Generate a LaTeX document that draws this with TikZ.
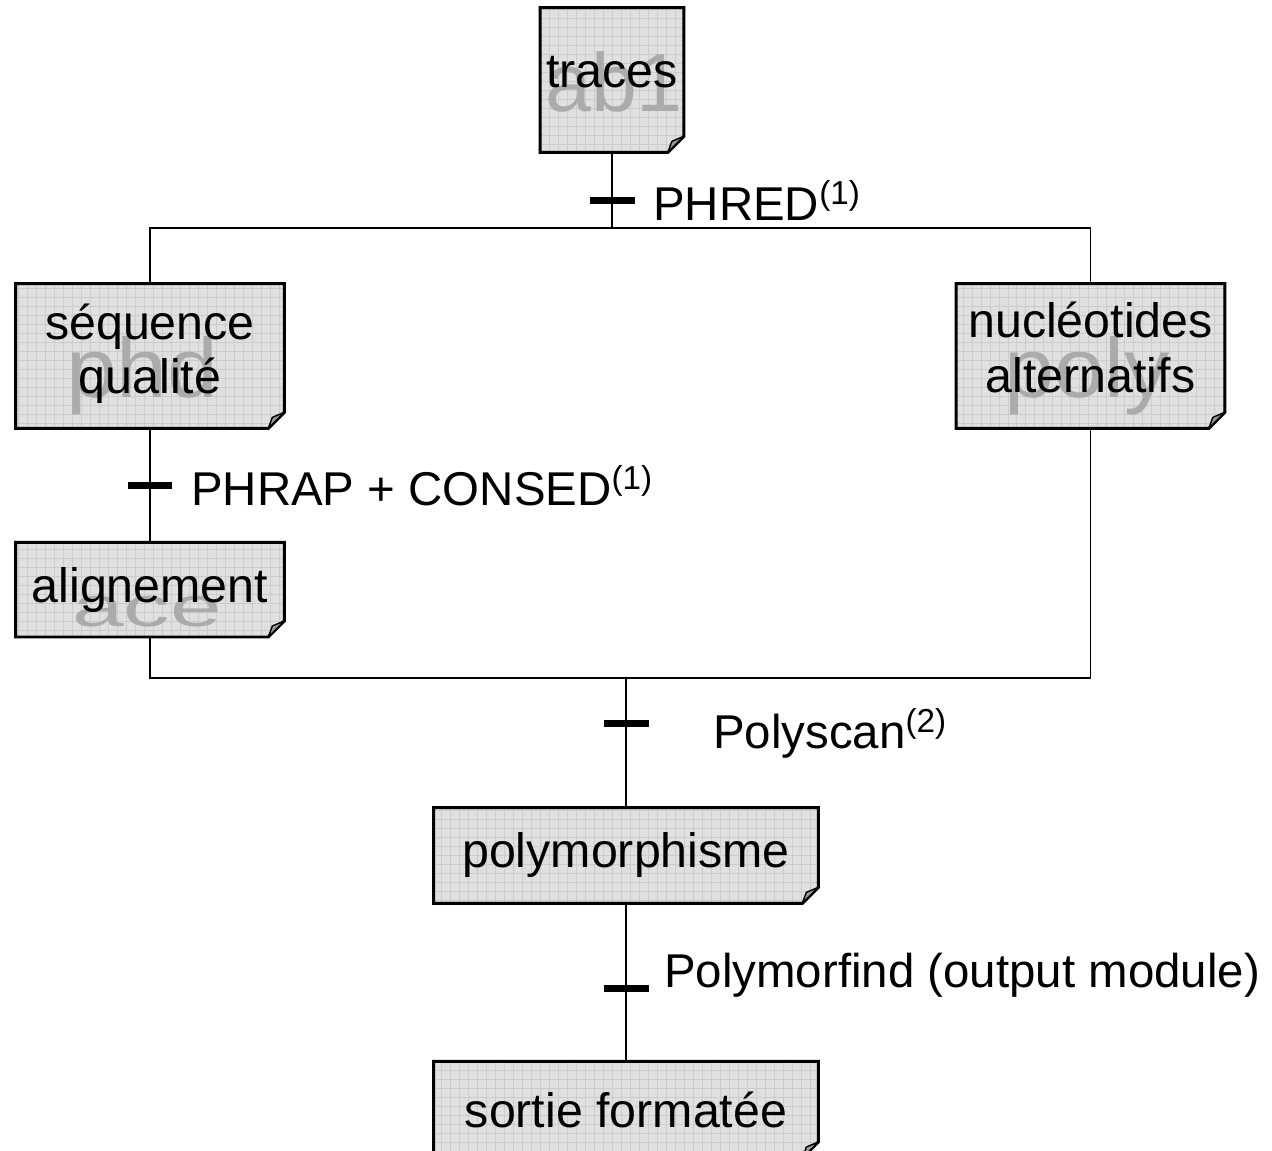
\documentclass[tikz,border=0pt]{standalone}
\usepackage{fontspec}
\setmainfont{Liberation Sans}
\usetikzlibrary{positioning,calc}
\pgfdeclarelayer{bg}
\pgfsetlayers{bg,main}
\tikzset{
	>=stealth
}
\newcommand{\fold}{0.32cm}

\begin{document}
\begin{tikzpicture}[
x = 0.02cm, y = -0.02cm,
node distance = 2mm,
every node/.style = {
	font = \fontsize{27}{31}\selectfont
},
doc/.style = {
	inner sep = 0pt,
	align = center,
	font = \fontsize{27.5}{31}\selectfont,
	minimum width = 5.36cm,
	minimum height = 2.88cm
},
trans/.style = {
	fill = black,
	inner sep = 0pt,
	minimum width = 0.9cm,
	minimum height = 0.14cm
},
tlabel/.style = {
	inner sep = 0pt
},
link/.style = {
	line width = 1.1pt
},
docbox/.style = {
	fill = black!12,
	draw,
	line width = 1.7pt,
	path picture = {
		\draw [black!20, line width = 0.3pt, step = 0.18cm]
			(path picture bounding box.south west) grid (path picture bounding box.north east);
	}
},
docfold/.style = {
	fill = black!40,
	draw,
	line width = 0.8pt,
	line join = round
},
watermark/.style = {
	text = black!33,
	inner sep = 0pt,
	anchor = base
}
]
\useasboundingbox (0,0) rectangle (1272,1151);

% documents
\node (traces) [doc, minimum width = 2.86cm, text depth = 9pt] at (612,80) {traces};
\node (seq) [doc, text depth = 8pt] at (150,356) {séquence\\qualité};
\node (nuc) [doc, text depth = 10pt, right = 13.44cm of seq] {nucléotides\\alternatifs};
\node (align) [doc, minimum height = 1.88cm, below = 2.28cm of seq] {alignement};
\node (polym) [doc, minimum width = 7.68cm, minimum height = 1.9cm] at (626,855.5) {polymorphisme};
\node (sortie) [doc, minimum width = 7.68cm, minimum height = 1.92cm, below = 3.16cm of polym] {sortie formatée};

\begin{pgfonlayer}{bg}
\foreach \n in {traces,seq,nuc,align,polym,sortie}{
	\path [docbox] (\n.north west) -- (\n.north east) -- ([yshift=\fold]\n.south east)
		-- ([xshift=-\fold]\n.south east) -- (\n.south west) -- cycle;
	\path [docfold] ([yshift=\fold]\n.south east) -- ([xshift=-\fold]\n.south east)
		-- ([xshift=-0.24cm, yshift=0.22cm]\n.south east) -- cycle;
}
\node (wm_ab1) [watermark, font = \fontsize{47}{47}\selectfont] at (614,112) {ab1};
\node (wm_phd) [watermark, font = \fontsize{48}{48}\selectfont, xscale = 1.08] at (142,398) {phd};
\node (wm_poly) [watermark, font = \fontsize{48}{48}\selectfont, xscale = 1.07] at (1087,398) {poly};
\node (wm_ace) [watermark, font = \fontsize{32}{32}\selectfont, xscale = 1.65] at (147,627) {ace};
\end{pgfonlayer}

% links
\coordinate (split) at ($(traces.south)+(0,76)$);
\coordinate (join) at ($(polym.north)+(0,-130)$);
\draw [link] (traces.south) -- (split);
\draw [link] (seq.north) |- (split) -| (nuc.north);
\draw [link] (seq.south) -- (align.north);
\draw [link] (align.south) |- (join) -| (nuc.south);
\draw [link] (join) -- (polym.north);
\draw [link] (polym.south) -- (sortie.north);

% transitions
\node (t_phred) [trans] at ($(traces.south)!.63!(split)$) {};
\node [tlabel, right = 0.36cm of t_phred] {PHRED\textsuperscript{(1)}};
\node (t_phrap) [trans] at ($(seq.south)!.5!(align.north)$) {};
\node [tlabel, right = 0.36cm of t_phrap] {PHRAP + CONSED\textsuperscript{(1)}};
\node (t_scan) [trans] at ($(join)!.35!(polym.north)$) {};
\node [tlabel, right = 1.28cm of t_scan, yshift = -0.2cm] {Polyscan\textsuperscript{(2)}};
\node (t_find) [trans] at ($(polym.south)!.54!(sortie.north)$) {};
\node [tlabel, right = 0.3cm of t_find, yshift = 0.26cm] {Polymorfind (output module)};

\end{tikzpicture}
\end{document}
